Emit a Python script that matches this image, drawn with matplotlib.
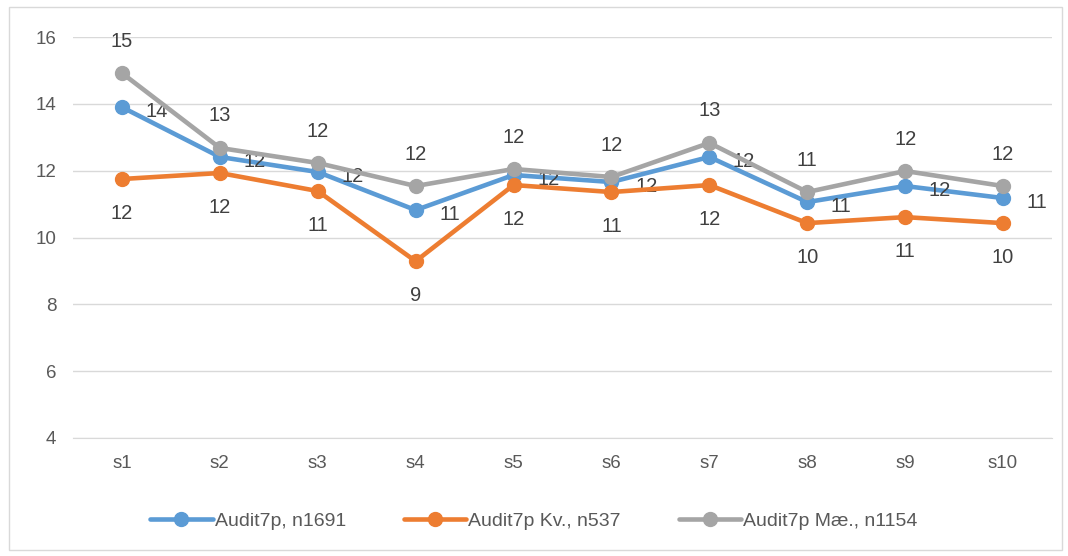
import matplotlib.pyplot as plt
from matplotlib.patches import Rectangle

categories = ["s1", "s2", "s3", "s4", "s5", "s6", "s7", "s8", "s9", "s10"]
audit_all = [13.9, 12.41, 11.96, 10.82, 11.87, 11.66, 12.41, 11.06, 11.54, 11.18]
audit_kv = [11.75, 11.93, 11.39, 9.29, 11.57, 11.36, 11.57, 10.43, 10.61, 10.43]
audit_mae = [14.92, 12.68, 12.23, 11.54, 12.05, 11.81, 12.83, 11.36, 11.99, 11.54]
names = ["Audit7p, n1691", "Audit7p Kv., n537", "Audit7p Mæ., n1154"]
yticks = [4, 6, 8, 10, 12, 14, 16]

plt.rcParams['font.family'] = ['Liberation Sans', 'DejaVu Sans']
txt = '#404040'

fig = plt.figure(figsize=(10.68, 5.56), dpi=100)
ax = fig.add_axes([73 / 1068, 1 - 438 / 556, (1052 - 73) / 1068, (438 - 37) / 556])

x = list(range(len(categories)))
series = [(audit_all, '#5B9BD5', (17, -3), 'left'),
          (audit_kv, '#ED7D31', (0, -25), 'center'),
          (audit_mae, '#A5A5A5', (0, 23), 'center')]

for (vals, col, off, ha), name in zip(series, names):
    ax.plot(x, vals, color=col, lw=3.3, marker='o', ms=10, label=name,
            solid_capstyle='round', zorder=3)
    for xi, v in zip(x, vals):
        ax.annotate(f"{round(v):d}", (xi, v), xytext=off, textcoords='offset points',
                    ha=ha, va='center', fontsize=14.5, color=txt)

ax.set_xlim(-0.5, 9.5)
ax.set_ylim(4, 16)
ax.set_yticks(yticks)
ax.set_xticks(x)
ax.set_xticklabels(categories)
ax.grid(axis='y', color='#D9D9D9', lw=1)
ax.set_axisbelow(True)
for s in ['top', 'right', 'left']:
    ax.spines[s].set_visible(False)
ax.spines['bottom'].set_color('#D9D9D9')
ax.tick_params(length=0, labelsize=13.5, colors='#595959', pad=12)

fig.legend(loc='center', bbox_to_anchor=(0.5, 1 - 521 / 556), ncol=3, frameon=False,
           fontsize=14, labelcolor='#595959', handlelength=3.2, columnspacing=3,
           handletextpad=0.1)

fig.patches.append(Rectangle((9 / 1068, 1 - 550 / 556), 1053 / 1068, 543 / 556,
                             transform=fig.transFigure, fill=False, ec='#D9D9D9', lw=1))

fig.savefig('out.png', dpi=100)
